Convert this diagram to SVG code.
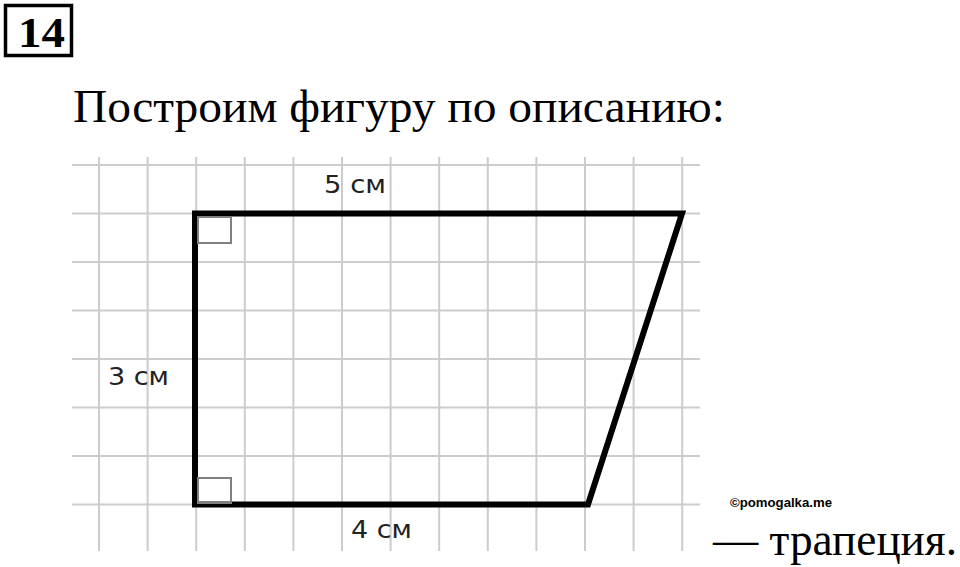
<svg xmlns="http://www.w3.org/2000/svg" width="960" height="567" viewBox="0 0 960 567">
<style>
.grid line{stroke:#cccccc;stroke-width:2}
.lbl{font-family:"DejaVu Sans","Liberation Sans",sans-serif;font-size:25px;fill:#222}
.serif{font-family:"Liberation Serif","DejaVu Serif",serif;fill:#000}
.ra{fill:none;stroke:#808080;stroke-width:2}
</style>
<rect width="960" height="567" fill="#fff"/>
<g id="header">
<rect x="5.5" y="5.5" width="66" height="50" fill="none" stroke="#000" stroke-width="3.5"/>
<text x="41.5" y="47" text-anchor="middle" class="serif" font-weight="bold" font-size="42" textLength="47" lengthAdjust="spacingAndGlyphs">14</text>
<text x="73" y="122" class="serif" font-size="46" textLength="652" lengthAdjust="spacingAndGlyphs">Построим фигуру по описанию:</text>
</g>
<g id="grid" class="grid">
<line x1="99" y1="157" x2="99" y2="551"/>
<line x1="147.6" y1="157" x2="147.6" y2="551"/>
<line x1="196.2" y1="157" x2="196.2" y2="551"/>
<line x1="244.8" y1="157" x2="244.8" y2="551"/>
<line x1="293.4" y1="157" x2="293.4" y2="551"/>
<line x1="342" y1="157" x2="342" y2="551"/>
<line x1="390.6" y1="157" x2="390.6" y2="551"/>
<line x1="439.2" y1="157" x2="439.2" y2="551"/>
<line x1="487.8" y1="157" x2="487.8" y2="551"/>
<line x1="536.4" y1="157" x2="536.4" y2="551"/>
<line x1="585" y1="157" x2="585" y2="551"/>
<line x1="633.6" y1="157" x2="633.6" y2="551"/>
<line x1="682.2" y1="157" x2="682.2" y2="551"/>
<line x1="72" y1="165" x2="700" y2="165"/>
<line x1="72" y1="213.5" x2="700" y2="213.5"/>
<line x1="72" y1="262" x2="700" y2="262"/>
<line x1="72" y1="310.5" x2="700" y2="310.5"/>
<line x1="72" y1="359" x2="700" y2="359"/>
<line x1="72" y1="407.5" x2="700" y2="407.5"/>
<line x1="72" y1="456" x2="700" y2="456"/>
<line x1="72" y1="504.5" x2="700" y2="504.5"/>
</g>
<g id="trapezoid">
<polygon points="195,213.5 682,213.5 588,504.5 195,504.5" fill="none" stroke="#000" stroke-width="6" stroke-linejoin="miter"/>
<rect class="ra" x="198" y="217" width="33" height="26"/>
<rect class="ra" x="198" y="478" width="33" height="25"/>
</g>
<g id="labels">
<text class="lbl" x="324" y="193" textLength="62" lengthAdjust="spacingAndGlyphs">5 см</text>
<text class="lbl" x="108" y="385" textLength="61" lengthAdjust="spacingAndGlyphs">3 см</text>
<text class="lbl" x="351" y="538" textLength="61" lengthAdjust="spacingAndGlyphs">4 см</text>
<text x="730" y="507" font-family="Liberation Sans,Arial,sans-serif" font-weight="bold" font-size="13" fill="#000" textLength="102" lengthAdjust="spacingAndGlyphs">©pomogalka.me</text>
<text x="713" y="555" class="serif" font-size="46" textLength="244" lengthAdjust="spacingAndGlyphs">— трапеция.</text>
</g>
</svg>
